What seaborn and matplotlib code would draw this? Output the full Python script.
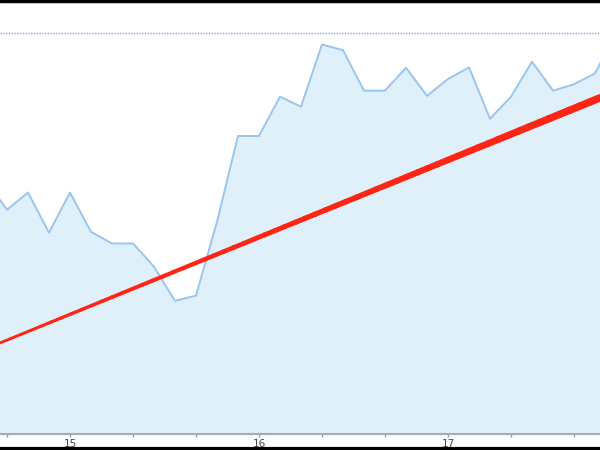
import numpy as np
import pandas as pd
import matplotlib
matplotlib.use("Agg")
import matplotlib.pyplot as plt
from matplotlib.collections import LineCollection
import seaborn as sns

# values (arbitrary units, dotted line = max)
values = [63.3, 55.9, 60.2, 50.2, 60.2, 50.4, 47.5, 47.5, 41.7, 33.2,
          34.5, 52.9, 74.3, 74.3, 84.1, 81.6, 97.1, 95.7, 85.6, 85.6,
          91.3, 84.3, 88.5, 91.4, 78.6, 84.1, 92.8, 85.6, 87.2, 89.9, 100.0]
tick_pos = [4, 13, 22]
tick_labels = ["15", "16", "17"]
minor_pos = [1, 7, 10, 16, 19, 25, 28]
trend_ends = [22.7, 83.8]
max_level = 100.0

df = pd.DataFrame({"t": range(len(values)), "v": values})

sns.set_style("white")
fig = plt.figure(figsize=(6, 4.5), dpi=100)
ax = fig.add_axes([0, 0.0356, 1, 0.9644])

xlim = (0.667, 29.238)
ax.fill_between(df["t"], df["v"], 0, color="#e0f0fa", lw=0)
sns.lineplot(data=df, x="t", y="v", ax=ax, color="#98c6f0", lw=1.4)
ax.axhline(max_level, color="#5b8ff5", lw=1.0, ls=(0, (1, 1)), alpha=0.8)

# trend line, widening to the right
tx = np.linspace(xlim[0], xlim[1], 60)
ty = trend_ends[0] + (trend_ends[1] - trend_ends[0]) * (tx - xlim[0]) / (xlim[1] - xlim[0])
pts = np.column_stack([tx, ty]).reshape(-1, 1, 2)
segs = np.concatenate([pts[:-1], pts[1:]], axis=1)
widths = np.linspace(2.0, 5.5, len(segs))
ax.add_collection(LineCollection(segs, linewidths=widths, colors="#ff2414", capstyle="round", zorder=5))

ax.set_xlim(*xlim)
ax.set_ylim(0, 108.2)
ax.set_xticks(tick_pos)
ax.set_xticklabels(tick_labels)
ax.set_xticks(minor_pos, minor=True)
ax.set_yticks([])
ax.tick_params(axis="x", which="both", direction="out", length=2.5, width=1,
               color="#999999", labelsize=7.5, labelcolor="#444444", pad=1, bottom=True)
ax.set_xlabel("")
ax.set_ylabel("")
for s in ["top", "left", "right"]:
    ax.spines[s].set_visible(False)
ax.spines["bottom"].set_color("#aaaaaa")
ax.spines["bottom"].set_linewidth(1.5)

# black frame lines top and bottom
fig.add_artist(plt.Line2D([0, 1], [0.998, 0.998], color="black", lw=2.5, transform=fig.transFigure))
fig.add_artist(plt.Line2D([0, 1], [0.003, 0.003], color="black", lw=3, transform=fig.transFigure))

fig.savefig("out.png", dpi=100)
